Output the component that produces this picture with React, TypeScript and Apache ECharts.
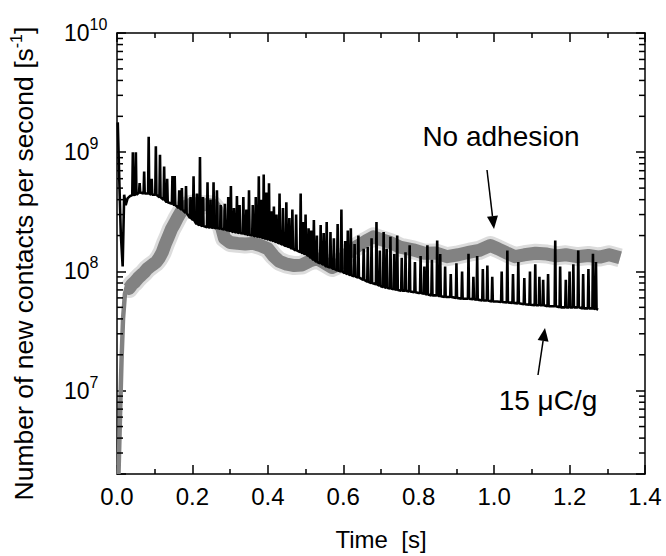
import React, { useEffect, useRef } from 'react';
import * as echarts from 'echarts';

const FONT = '"Liberation Sans", Arial, Helvetica, sans-serif';

// Grey "No adhesion": steep initial rise (thin trace)
const greyRiseTime = [0.004, 0.008, 0.012, 0.016, 0.021, 0.026, 0.03];
const greyRiseValue = [2.0e6, 6e6, 1.8e7, 4e7, 6.5e7, 7.5e7, 7.4e7];

// Grey band: "No adhesion" (time [s], contacts per second)
const greyTime = [0.024, 0.032, 0.04, 0.048, 0.056, 0.064, 0.072, 0.08, 0.088, 0.096, 0.104, 0.112, 0.12, 0.128, 0.136, 0.144, 0.152, 0.16, 0.168, 0.176, 0.185, 0.195, 0.21, 0.225, 0.24, 0.255, 0.265, 0.275, 0.285, 0.3, 0.32, 0.34, 0.36, 0.38, 0.4, 0.415, 0.43, 0.45, 0.47, 0.49, 0.51, 0.53, 0.55, 0.57, 0.59, 0.605, 0.62, 0.64, 0.66, 0.68, 0.7, 0.725, 0.75, 0.785, 0.815, 0.845, 0.875, 0.905, 0.935, 0.96, 0.99, 1.01, 1.035, 1.055, 1.08, 1.11, 1.14, 1.165, 1.19, 1.22, 1.25, 1.28, 1.305, 1.334];
const greyValue = [7.3e7, 7.2e7, 7.8e7, 8.2e7, 8.8e7, 9.3e7, 9.8e7, 1.05e8, 1.1e8, 1.15e8, 1.2e8, 1.3e8, 1.45e8, 1.7e8, 1.95e8, 2.25e8, 2.5e8, 2.8e8, 3.1e8, 3.35e8, 3.55e8, 3.65e8, 3.7e8, 3.6e8, 3.65e8, 3.6e8, 3.3e8, 2.5e8, 1.9e8, 1.75e8, 1.72e8, 1.7e8, 1.72e8, 1.65e8, 1.55e8, 1.35e8, 1.22e8, 1.15e8, 1.12e8, 1.13e8, 1.22e8, 1.28e8, 1.18e8, 1.08e8, 1.15e8, 1.35e8, 1.5e8, 1.65e8, 1.8e8, 1.95e8, 1.85e8, 1.75e8, 1.6e8, 1.52e8, 1.42e8, 1.43e8, 1.33e8, 1.38e8, 1.45e8, 1.5e8, 1.65e8, 1.55e8, 1.42e8, 1.33e8, 1.38e8, 1.42e8, 1.4e8, 1.35e8, 1.38e8, 1.33e8, 1.36e8, 1.32e8, 1.38e8, 1.3e8];

// Black trace: "15 μC/g" baseline
const blackTime = [0.002, 0.006, 0.010, 0.015, 0.019, 0.023, 0.028, 0.035, 0.06, 0.095, 0.135, 0.165, 0.195, 0.212, 0.23, 0.27, 0.31, 0.36, 0.41, 0.443, 0.475, 0.531, 0.575, 0.608, 0.64, 0.67, 0.70, 0.76, 0.8, 0.835, 0.88, 0.918, 0.97, 1.008, 1.05, 1.096, 1.183, 1.25, 1.276];
const blackValue = [1.78e9, 6e8, 2.1e8, 1.1e8, 4.4e8, 3.6e8, 4.1e8, 4.3e8, 4.6e8, 4.4e8, 3.8e8, 3.4e8, 2.8e8, 2.5e8, 2.38e8, 2.3e8, 2.14e8, 2.0e8, 1.82e8, 1.66e8, 1.5e8, 1.2e8, 1.05e8, 9.6e7, 8.9e7, 8.1e7, 7.5e7, 6.9e7, 6.6e7, 6.3e7, 6.1e7, 5.9e7, 5.7e7, 5.6e7, 5.45e7, 5.25e7, 5.0e7, 4.9e7, 4.8e7];

// Black trace spikes: time, peak, local baseline
const spikeTime = [0.042, 0.05, 0.072, 0.084, 0.103, 0.114, 0.125, 0.147, 0.153, 0.183, 0.203, 0.22, 0.24, 0.256, 0.286, 0.302, 0.318, 0.335, 0.35, 0.376, 0.389, 0.403, 0.416, 0.431, 0.449, 0.465, 0.487, 0.5, 0.515, 0.54, 0.566, 0.595, 0.62, 0.654, 0.688, 0.707, 0.725, 0.743, 0.776, 0.823, 0.849, 0.857, 0.9, 0.932, 0.955, 0.982, 1.035, 1.064, 1.109, 1.13, 1.143, 1.162, 1.2, 1.223, 1.236, 1.262,
  0.06, 0.092, 0.133, 0.165, 0.172, 0.195, 0.212, 0.228, 0.248, 0.265, 0.275, 0.295, 0.31, 0.325, 0.343, 0.36, 0.368, 0.382, 0.396, 0.41, 0.423, 0.44, 0.457, 0.475, 0.493, 0.508, 0.522, 0.53, 0.548, 0.556, 0.575, 0.585, 0.605, 0.612, 0.63, 0.64, 0.665, 0.675, 0.697, 0.715, 0.735, 0.755, 0.765, 0.79, 0.805, 0.815, 0.835, 0.87, 0.885, 0.915, 0.945, 0.97, 0.995, 1.02, 1.05, 1.08, 1.095, 1.12, 1.175, 1.19, 1.21, 1.25, 1.27];
const spikePeak = [1.0e9, 1.0e9, 6.9e8, 1.35e9, 1.12e9, 9.5e8, 7.6e8, 6.3e8, 6.3e8, 5.2e8, 6.3e8, 9.1e8, 5.6e8, 5.6e8, 3.7e8, 5.2e8, 4.3e8, 4.2e8, 4.8e8, 6.3e8, 6.5e8, 5.5e8, 3.5e8, 4.5e8, 3.8e8, 3.3e8, 4.5e8, 3.0e8, 2.2e8, 2.45e8, 2.14e8, 3.3e8, 2.3e8, 1.55e8, 2.6e8, 2.14e8, 1.95e8, 2.0e8, 1.66e8, 1.66e8, 1.82e8, 1.4e8, 1.17e8, 1.41e8, 1.35e8, 1.12e8, 1.5e8, 1.2e8, 1.15e8, 8.5e7, 9.5e7, 1.82e8, 1.0e8, 1.5e8, 9.5e7, 1.41e8,
  5.5e8, 6.0e8, 6.0e8, 4.8e8, 5.0e8, 4.2e8, 4.5e8, 4.2e8, 4.0e8, 4.8e8, 3.6e8, 4.2e8, 3.4e8, 3.6e8, 3.3e8, 3.6e8, 4.2e8, 4.0e8, 4.6e8, 3.2e8, 3.0e8, 3.4e8, 2.8e8, 3.0e8, 2.6e8, 2.3e8, 2.7e8, 2.0e8, 2.1e8, 2.6e8, 1.9e8, 2.5e8, 1.8e8, 2.2e8, 1.7e8, 2.0e8, 1.6e8, 1.9e8, 1.5e8, 1.55e8, 1.4e8, 1.3e8, 1.45e8, 1.2e8, 1.35e8, 1.1e8, 1.25e8, 1.1e8, 9.5e7, 1.0e8, 9.0e7, 1.05e8, 9.0e7, 1.0e8, 9.5e7, 8.8e7, 1.0e8, 9.0e7, 1.1e8, 8.5e7, 1.15e8, 1.05e8, 1.2e8];
const spikeBase = [4.37e8, 4.4e8, 4.5e8, 4.5e8, 4.4e8, 4.2e8, 4.0e8, 3.7e8, 3.6e8, 3.1e8, 2.7e8, 2.45e8, 2.35e8, 2.33e8, 2.25e8, 2.18e8, 2.12e8, 2.08e8, 2.02e8, 1.95e8, 1.9e8, 1.85e8, 1.8e8, 1.72e8, 1.63e8, 1.55e8, 1.45e8, 1.4e8, 1.3e8, 1.17e8, 1.08e8, 1.0e8, 9.3e7, 8.5e7, 7.8e7, 7.4e7, 7.2e7, 7.0e7, 6.8e7, 6.4e7, 6.3e7, 6.2e7, 6.0e7, 5.9e7, 5.8e7, 5.7e7, 5.5e7, 5.4e7, 5.2e7, 5.2e7, 5.1e7, 5.1e7, 5.0e7, 5.0e7, 4.9e7, 4.9e7,
  4.6e8, 4.4e8, 3.8e8, 3.4e8, 3.3e8, 2.8e8, 2.5e8, 2.4e8, 2.34e8, 2.3e8, 2.28e8, 2.2e8, 2.14e8, 2.1e8, 2.05e8, 2.0e8, 1.97e8, 1.93e8, 1.88e8, 1.82e8, 1.76e8, 1.68e8, 1.6e8, 1.5e8, 1.42e8, 1.35e8, 1.25e8, 1.2e8, 1.14e8, 1.1e8, 1.05e8, 1.02e8, 9.7e7, 9.5e7, 9.1e7, 8.9e7, 8.2e7, 8.0e7, 7.6e7, 7.3e7, 7.1e7, 6.9e7, 6.9e7, 6.7e7, 6.6e7, 6.5e7, 6.3e7, 6.1e7, 6.1e7, 5.9e7, 5.85e7, 5.7e7, 5.6e7, 5.55e7, 5.45e7, 5.3e7, 5.25e7, 5.2e7, 5.0e7, 5.0e7, 5.0e7, 4.9e7, 4.85e7];

const yMinorTicks = [3e6, 4e6, 5e6, 6e6, 7e6, 8e6, 9e6, 2e7, 3e7, 4e7, 5e7, 6e7, 7e7, 8e7, 9e7, 2e8, 3e8, 4e8, 5e8, 6e8, 7e8, 8e8, 9e8, 2e9, 3e9, 4e9, 5e9, 6e9, 7e9, 8e9, 9e9];

const xTitle = 'Time  [s]';
const yTitle = '{t|Number of new contacts per second [s}{s|-1}{t|]}';
const noteA = 'No adhesion';
const noteB = '15 \u03bcC/g';

function arrow(x1: number, y1: number, x2: number, y2: number) {
  const dx = x2 - x1, dy = y2 - y1;
  const len = Math.sqrt(dx * dx + dy * dy);
  const ux = dx / len, uy = dy / len;
  const nx = -uy, ny = ux;
  const L = 13, W = 5.5;
  const bx = x2 - ux * L, by = y2 - uy * L;
  return [
    { type: 'line', shape: { x1, y1, x2: bx, y2: by }, style: { stroke: '#000', lineWidth: 1.5 }, silent: true },
    { type: 'polygon', shape: { points: [[x2, y2], [bx + nx * W, by + ny * W], [bx - nx * W, by - ny * W]] }, style: { fill: '#000' }, silent: true },
  ];
}

export default function App() {
  const ref = useRef<HTMLDivElement>(null);
  useEffect(() => {
    if (!ref.current) return;
    const chart = echarts.init(ref.current, null, { renderer: 'svg' });

    const greyRise = greyRiseTime.map((t, i) => [t, greyRiseValue[i]]);
    const greyData = greyTime.map((t, i) => [t, greyValue[i]]);
    const blackPts: number[][] = blackTime.map((t, i) => [t, blackValue[i]]);
    spikeTime.forEach((t, i) => {
      blackPts.push([t - 0.0015, spikeBase[i]]);
      blackPts.push([t, spikePeak[i]]);
      blackPts.push([t + 0.0015, spikeBase[i]]);
    });
    blackPts.sort((a, b) => a[0] - b[0]);

    const axisLine = { show: true, onZero: false, lineStyle: { color: '#000', width: 1.5 } };
    const xCommon = {
      type: 'value', min: 0, max: 1.4, interval: 0.2,
      axisLine,
      axisTick: { show: true, inside: true, length: 9, lineStyle: { color: '#000', width: 1.5 } },
      minorTick: { show: true, splitNumber: 2, length: 5, lineStyle: { color: '#000', width: 1.5 } },
      splitLine: { show: false },
      minorSplitLine: { show: false },
    };
    const yCommon = {
      type: 'log', logBase: 10, min: 2e6, max: 1e10,
      axisLine,
      axisTick: { show: true, inside: true, length: 9, lineStyle: { color: '#000', width: 1.5 } },
      splitLine: { show: false },
    };

    const option: any = {
      animation: false,
      backgroundColor: '#ffffff',
      textStyle: { fontFamily: FONT },
      grid: { left: 116, right: 21, top: 33, bottom: 79, containLabel: false },
      xAxis: [
        {
          ...xCommon, position: 'bottom',
          axisLabel: { color: '#000', fontSize: 24, margin: 10, fontFamily: FONT, formatter: (v: number) => v.toFixed(1) },
          name: xTitle, nameLocation: 'middle', nameGap: 53,
          nameTextStyle: { color: '#000', fontSize: 24, fontFamily: FONT },
        },
        { ...xCommon, position: 'top', axisLabel: { show: false } },
      ],
      yAxis: [
        {
          ...yCommon, position: 'left',
          axisLabel: {
            color: '#000', align: 'left', margin: 53, fontFamily: FONT,
            formatter: (v: number) => {
              const e = Math.log10(v);
              const r = Math.round(e);
              if (Math.abs(e - r) > 1e-6) return '';
              return '{b|10}{s|' + r + '}';
            },
            rich: {
              b: { fontSize: 23, lineHeight: 23, verticalAlign: 'bottom', color: '#000', fontFamily: FONT },
              s: { fontSize: 16, lineHeight: 16, padding: [0, 0, 12, 0], verticalAlign: 'bottom', color: '#000', fontFamily: FONT },
            },
          },
          name: yTitle, nameLocation: 'middle', nameGap: 80, nameRotate: 90,
          nameTextStyle: {
            color: '#000', fontFamily: FONT, padding: [0, 20, 0, 0],
            rich: {
              t: { fontSize: 26.5, lineHeight: 26, verticalAlign: 'bottom', color: '#000', fontFamily: FONT },
              s: { fontSize: 16, lineHeight: 16, padding: [0, 0, 13, 0], verticalAlign: 'bottom', color: '#000', fontFamily: FONT },
            },
          },
        },
        { ...yCommon, position: 'right', axisLabel: { show: false } },
      ],
      series: [
        {
          name: 'No adhesion rise', type: 'line', data: greyRise, xAxisIndex: 0, yAxisIndex: 0,
          showSymbol: false, symbol: 'none', clip: true, silent: true,
          lineStyle: { color: '#828282', width: 4.5, join: 'round' },
          z: 2,
        },
        {
          name: 'No adhesion halo', type: 'line', data: greyData, xAxisIndex: 0, yAxisIndex: 0,
          showSymbol: false, symbol: 'none', clip: true, silent: true,
          lineStyle: { color: 'rgba(128,128,128,0.28)', width: 19, join: 'round' },
          z: 1,
        },
        {
          name: 'No adhesion', type: 'line', data: greyData, xAxisIndex: 0, yAxisIndex: 0,
          showSymbol: false, symbol: 'none', clip: true,
          lineStyle: { color: '#828282', width: 13, join: 'round' },
          z: 2,
        },
        {
          name: '15 μC/g', type: 'line', data: blackPts, xAxisIndex: 0, yAxisIndex: 0,
          showSymbol: false, symbol: 'none', clip: true,
          lineStyle: { color: '#000', width: 2.6 },
          z: 3,
        },
        {
          name: 'minorTicks', type: 'custom', xAxisIndex: 0, yAxisIndex: 0,
          data: yMinorTicks.map((v) => [0, v]),
          encode: { x: 0, y: 1 },
          silent: true, z: 4,
          renderItem: (params: any, api: any) => {
            const v = api.value(1);
            const pl = api.coord([0, v]);
            const pr = api.coord([1.4, v]);
            return {
              type: 'group',
              children: [
                { type: 'line', shape: { x1: pl[0], y1: pl[1], x2: pl[0] + 6, y2: pl[1] }, style: { stroke: '#000', lineWidth: 1.5 } },
                { type: 'line', shape: { x1: pr[0] - 6, y1: pr[1], x2: pr[0], y2: pr[1] }, style: { stroke: '#000', lineWidth: 1.5 } },
              ],
            };
          },
        },
      ],
      graphic: [
        { type: 'text', x: 501, y: 136, silent: true, style: { text: noteA, fontSize: 28, fontFamily: FONT, fill: '#000', align: 'center', verticalAlign: 'middle' } },
        ...arrow(487, 170, 494, 229),
        { type: 'text', x: 548, y: 400, silent: true, style: { text: noteB, fontSize: 28, fontFamily: FONT, fill: '#000', align: 'center', verticalAlign: 'middle' } },
        ...arrow(538, 375, 545, 328),
      ],
    };
    chart.setOption(option);
    return () => chart.dispose();
  }, []);
  return <div ref={ref} style={{ position: 'fixed', left: 0, top: 0, width: 666, height: 556, background: '#fff' }} />;
}
